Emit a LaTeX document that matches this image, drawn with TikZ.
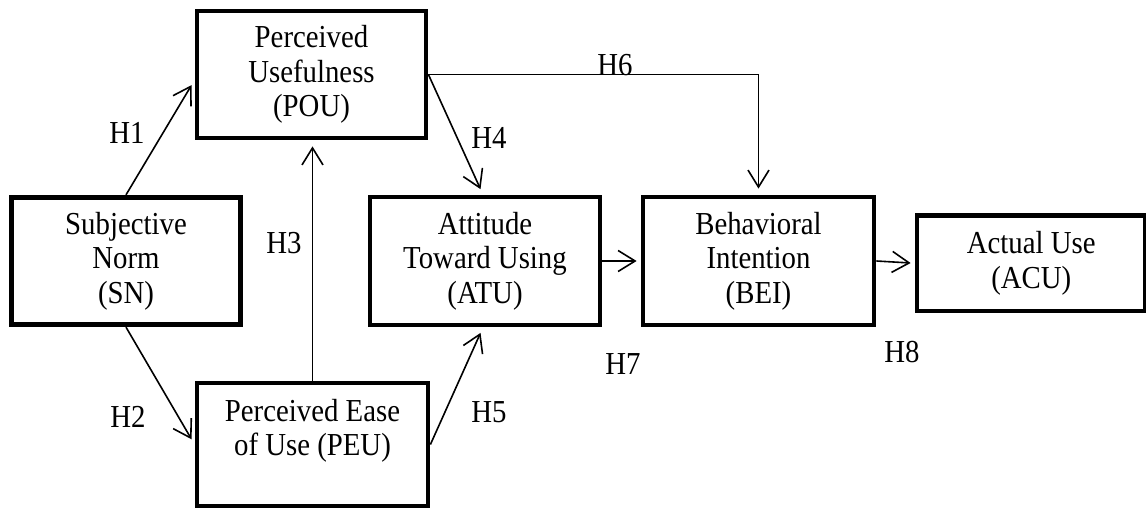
\documentclass[tikz,border=0pt]{standalone}
\usepackage{fontspec}
\setmainfont{Liberation Serif}[FakeStretch=0.9]
\usetikzlibrary{arrows.meta}
\begin{document}
\begin{tikzpicture}[x=1pt,y=-1pt,
  box/.style={draw=black, line width=4.8pt, inner sep=0pt, align=center,
    font=\fontsize{32}{34.5}\selectfont, execute at begin node={\rule{0pt}{27pt}}},
  hyp/.style={font=\fontsize{32}{34}\selectfont, inner sep=0pt},
  conn/.style={line width=1.6pt, -{Straight Barb[length=17pt,width=21pt,line width=1.6pt]}, shorten >=6pt}
]
\fill[white] (0,0) rectangle (1146,510);
\useasboundingbox (0,0) rectangle (1146,510);

\node[box, minimum width=229.5pt, minimum height=127.5pt] (SN) at (126,261) {Subjective\\Norm\\(SN)};
\node[box, minimum width=229pt, minimum height=127pt] (POU) at (311.5,74.5) {Perceived\\Usefulness\\(POU)};
\node[box, minimum width=231pt, minimum height=123pt] (PEU) at (312.5,444.5) {Perceived Ease\\of Use (PEU)\\\mbox{}};
\node[box, minimum width=230pt, minimum height=128pt] (ATU) at (485,261) {Attitude\\Toward Using\\(ATU)};
\node[box, minimum width=231pt, minimum height=128pt] (BEI) at (758.5,261) {Behavioral\\Intention\\(BEI)};
\node[box, minimum width=228.5pt, minimum height=95.5pt] (ACU) at (1031.25,263.25) {Actual Use\\(ACU)};

\draw[conn] (SN.north) -- ([yshift=-5.5pt]POU.west);
\draw[conn] (SN.south) -- (PEU.west);
\draw[conn] (PEU.north) -- (PEU.north |- POU.south);
\draw[conn] (POU.east) -- ([xshift=-2pt]ATU.north);
\draw[conn] (PEU.east) -- ([xshift=-2pt]ATU.south);
\draw[conn] (POU.east) -| (BEI.north);
\draw[conn, shorten >=4pt] (ATU.east) -- (BEI.west);
\draw[conn, shorten >=4pt] (BEI.east) -- (ACU.west);

\node[hyp] (h1) at (127,133) {H1};
\node[hyp] (h2) at (128,417) {H2};
\node[hyp] (h3) at (284,243) {H3};
\node[hyp] (h4) at (489,138) {H4};
\node[hyp] (h5) at (489,412) {H5};
\node[hyp] (h6) at (615,65) {H6};
\node[hyp] (h7) at (623,364) {H7};
\node[hyp] (h8) at (902,352) {H8};
\end{tikzpicture}
\end{document}
